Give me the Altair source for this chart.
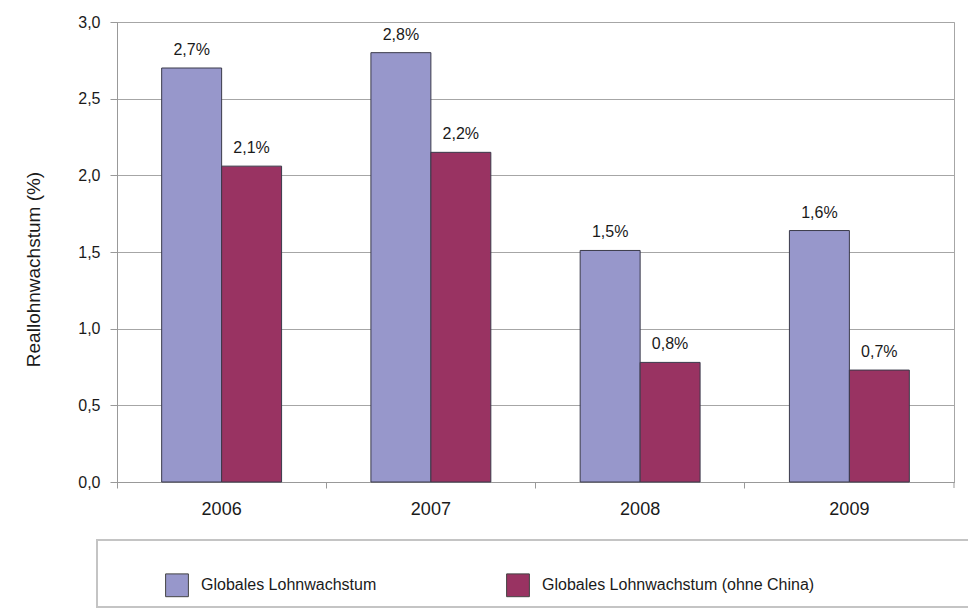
import altair as alt
import pandas as pd

years = ["2006", "2007", "2008", "2009"]
series_names = ["Globales Lohnwachstum", "Globales Lohnwachstum (ohne China)"]
globales = [2.70, 2.80, 1.51, 1.64]
ohne_china = [2.06, 2.15, 0.78, 0.73]
labels_globales = ["2,7%", "2,8%", "1,5%", "1,6%"]
labels_ohne = ["2,1%", "2,2%", "0,8%", "0,7%"]
y_ticks = [0, 0.5, 1.0, 1.5, 2.0, 2.5, 3.0]
colors = ["#9797CB", "#993362"]

rows = []
for i, yr in enumerate(years):
    rows.append({"Jahr": yr, "Serie": series_names[0], "Wert": globales[i], "Label": labels_globales[i]})
    rows.append({"Jahr": yr, "Serie": series_names[1], "Wert": ohne_china[i], "Label": labels_ohne[i]})
df = pd.DataFrame(rows)

FONT = "Liberation Sans"
W, H = 837, 460

x_enc = alt.X("Jahr:N", sort=years,
              scale=alt.Scale(paddingInner=0, paddingOuter=0),
              axis=alt.Axis(title=None, labelAngle=0, labelFontSize=18, labelFont=FONT,
                            labelColor="#1a1a1a", labelPadding=12, tickSize=6, tickColor="#999999",
                            domainColor="#999999", bandPosition=0, grid=False))
xoff = alt.XOffset("Serie:N", sort=series_names,
                   scale=alt.Scale(paddingInner=0, paddingOuter=0.745))
y_enc = alt.Y("Wert:Q",
              scale=alt.Scale(domain=[0, 3], nice=False),
              axis=alt.Axis(title="Reallohnwachstum (%)", values=y_ticks,
                            labelExpr="replace(format(datum.value, '.1f'), '.', ',')",
                            labelFontSize=16, labelFont=FONT, labelColor="#1a1a1a",
                            labelPadding=10, tickSize=7, tickColor="#999999",
                            domainColor="#999999", gridColor="#A6A6A6",
                            titleFont=FONT, titleFontSize=19, titleFontWeight="normal",
                            titleColor="#1a1a1a", titleX=-74, titleY=247, titleAngle=270,
                            titleAlign="center", titleBaseline="bottom"))

color_enc = alt.Color("Serie:N", sort=series_names,
                      scale=alt.Scale(domain=series_names, range=colors),
                      legend=alt.Legend(title=None, orient="none", legendX=48, legendY=551,
                                        direction="horizontal", symbolType="square",
                                        symbolSize=520, symbolStrokeColor="#444444",
                                        symbolStrokeWidth=1, symbolOpacity=1,
                                        labelFont=FONT, labelFontSize=16, labelColor="#1a1a1a",
                                        labelOffset=12, columnPadding=127, labelLimit=400))

base = alt.Chart(df)

bars = base.mark_bar(stroke="#3a3a4a", strokeWidth=1).encode(
    x=x_enc, xOffset=xoff, y=y_enc, color=color_enc)

texts = base.mark_text(baseline="bottom", dy=-10, font=FONT, fontSize=16, color="#1a1a1a").encode(
    x=alt.X("Jahr:N", sort=years), xOffset=alt.XOffset("Serie:N", sort=series_names),
    y="Wert:Q", text="Label:N")

box_df = pd.DataFrame({"k": [0]})
legend_box = alt.Chart(box_df).mark_rect(fill=None, stroke="#C4C4C4", strokeWidth=2).encode(
    x=alt.value(-20), x2=alt.value(W + 40), y=alt.value(518), y2=alt.value(585))

end_tick = alt.Chart(box_df).mark_rule(color="#999999").encode(
    x=alt.value(W), y=alt.value(H), y2=alt.value(H + 6))

chart = alt.layer(bars, texts, legend_box, end_tick).properties(
    width=W, height=H,
    autosize=alt.AutoSizeParams(type="none"),
    padding={"left": 117, "top": 22, "right": 14, "bottom": 126},
    background="white",
).configure_view(stroke="#A6A6A6", strokeWidth=1).configure_axis(gridWidth=1)

chart.save("out.html", embed_options={"renderer": "svg", "actions": False})
